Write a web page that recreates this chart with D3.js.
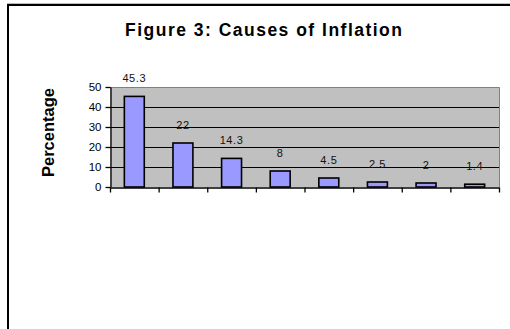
<!DOCTYPE html>
<html>
<head>
<meta charset="utf-8">
<script src="https://cdn.jsdelivr.net/npm/d3@7"></script>
<style>
  html, body { margin: 0; padding: 0; background: #fff; }
  svg { display: block; font-family: "Liberation Sans", Arial, sans-serif; }
</style>
</head>
<body>
<svg id="chart" width="510" height="329"></svg>
<script>
const categories = ["Cause 1", "Cause 2", "Cause 3", "Cause 4", "Cause 5", "Cause 6", "Cause 7", "Cause 8"];
const values = [45.3, 22, 14.3, 8, 4.5, 2.5, 2, 1.4];
const valueLabels = ["45.3", "22", "14.3", "8", "4.5", "2.5", "2", "1.4"];
const yTicks = [0, 10, 20, 30, 40, 50];
const title = "Figure 3: Causes of Inflation";
const yTitle = "Percentage";

const svg = d3.select("#chart");
const plot = { left: 110, right: 499, top: 87, bottom: 187 };

// outer chart border (extends beyond the visible area)
svg.append("rect").attr("x", 8).attr("y", 5).attr("width", 540).attr("height", 360)
  .attr("fill", "#fff").attr("stroke", "#000").attr("stroke-width", 2);
svg.append("line").attr("x1", 7).attr("x2", 510).attr("y1", 3.5).attr("y2", 3.5)
  .attr("stroke", "#bbb").attr("stroke-width", 1);

const y = d3.scaleLinear().domain([0, 50]).range([plot.bottom, plot.top]);
const x = d3.scaleBand().domain(categories).range([plot.left, plot.right])
  .paddingInner(0.59).paddingOuter(0.295);
const xEdge = d3.scaleLinear().domain([0, categories.length]).range([plot.left, plot.right]);

// plot area
svg.append("rect").attr("x", plot.left).attr("y", plot.top)
  .attr("width", plot.right - plot.left).attr("height", plot.bottom - plot.top)
  .attr("fill", "#c0c0c0");

// gridlines
svg.append("g").selectAll("line").data(yTicks.filter(d => d > 0 && d < 50)).join("line")
  .attr("x1", plot.left).attr("x2", plot.right)
  .attr("y1", d => Math.round(y(d)) + 0.5).attr("y2", d => Math.round(y(d)) + 0.5)
  .attr("stroke", "#000").attr("stroke-width", 1);

// plot area top/right border (grey)
svg.append("path")
  .attr("d", `M${plot.left},${plot.top + 0.5}H${plot.right + 0.5}V${plot.bottom}`)
  .attr("fill", "none").attr("stroke", "#808080").attr("stroke-width", 1);

// bars
svg.append("g").selectAll("rect").data(values).join("rect")
  .attr("x", (d, i) => x(categories[i]))
  .attr("y", d => y(d))
  .attr("width", x.bandwidth())
  .attr("height", d => y(0) - y(d))
  .attr("fill", "#9999ff").attr("stroke", "#000").attr("stroke-width", 1.6);

// value labels
svg.append("g").selectAll("text").data(values).join("text")
  .attr("x", (d, i) => x(categories[i]) + x.bandwidth() / 2)
  .attr("y", d => y(d) - 14)
  .attr("text-anchor", "middle")
  .attr("font-size", 11).attr("letter-spacing", 0.6)
  .attr("fill", "#111")
  .text((d, i) => valueLabels[i]);

// y axis
const yAxis = svg.append("g").attr("transform", `translate(${plot.left + 0.5},0)`)
  .call(d3.axisLeft(y).tickValues(yTicks).tickSize(5).tickPadding(4).tickSizeOuter(0));
yAxis.selectAll("text").attr("font-size", 11.5).attr("font-family", "Liberation Sans, Arial, sans-serif").attr("fill", "#000");
yAxis.selectAll("line, path").attr("stroke", "#000").attr("stroke-width", 1.3);

// x axis
const xAxis = svg.append("g").attr("transform", `translate(0,${plot.bottom + 0.5})`)
  .call(d3.axisBottom(xEdge).tickValues(d3.range(categories.length + 1)).tickSize(5).tickSizeOuter(0).tickFormat(() => ""));
xAxis.selectAll("line, path").attr("stroke", "#000").attr("stroke-width", 1.3);

// title
svg.append("text").attr("x", 125).attr("y", 36)
  .attr("font-size", 17.5).attr("font-weight", "bold").attr("fill", "#000")
  .attr("textLength", 277).attr("lengthAdjust", "spacing")
  .text(title);

// y title
svg.append("text")
  .attr("transform", `translate(54,132.5) rotate(-90)`)
  .attr("text-anchor", "middle")
  .attr("font-size", 16.5).attr("font-weight", "bold").attr("fill", "#000")
  .text(yTitle);
</script>
</body>
</html>
